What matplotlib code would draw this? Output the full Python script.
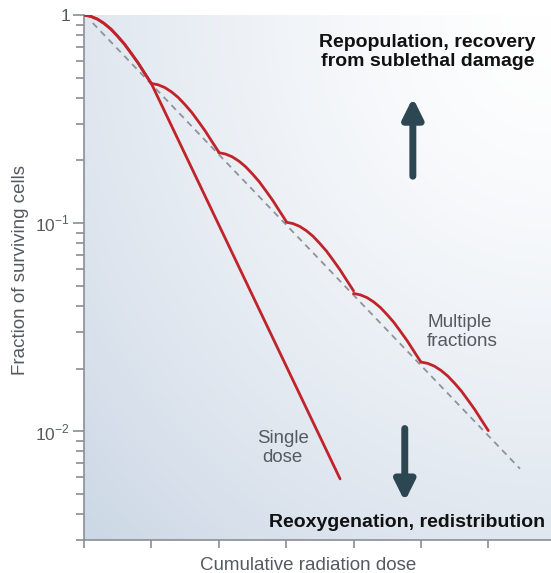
"""
plot.py
cell survival for a single dose vs. multiple fractions
"""

import numpy as np
import matplotlib.pyplot as plt
from matplotlib.ticker import LogLocator, NullFormatter, FixedLocator, NullLocator

plt.rcParams['font.family'] = ['Liberation Sans', 'DejaVu Sans']

# shoulder of one fraction: relative survival vs dose within the fraction
shoulder_dose = [0.0, 0.1, 0.2, 0.3, 0.4, 0.5, 0.6, 0.7, 0.8, 0.9, 1.0]
shoulder_surv = [1.0, 0.985, 0.955, 0.91, 0.855, 0.79, 0.725, 0.655, 0.59, 0.525, 0.468]

# survival at the start of each fraction
fraction_start = [0, 1, 2, 3, 4, 5]
fraction_level = [1.0, 0.469, 0.218, 0.101, 0.0459, 0.0215]

# single dose tail (straight on log scale)
single_tail_dose = [1.0, 3.8]
single_tail_surv = [0.468, 0.0059]

# dashed reference line
ref_dose = [0.13, 6.47]
ref_surv = [0.915, 0.0066]

dose_ticks = [0, 1, 2, 3, 4, 5, 6]

red = '#c1232b'
arrow_col = '#2c4652'
grey_txt = '#555a60'

fig = plt.figure(figsize=(5.51, 5.73), dpi=100)
pos = [84 / 551, 33 / 573, 467 / 551, 525 / 573]

# background shading, light at top right, blue-grey at bottom left
bg = fig.add_axes(pos, zorder=0)
yy, xx = np.mgrid[0:1:200j, 0:1:200j]
d = np.sqrt((1 - xx) ** 2 + yy ** 2) / np.sqrt(2)
d = np.clip(d, 0, 1) ** 1.4
light = np.array([1.0, 1.0, 1.0])
dark = np.array([0.80, 0.845, 0.90])
img = light[None, None, :] * (1 - d[..., None]) + dark[None, None, :] * d[..., None]
bg.imshow(img, extent=[0, 1, 0, 1], aspect='auto', origin='upper')
bg.axis('off')

ax = fig.add_axes(pos, zorder=1)
ax.set_facecolor('none')
ax.set_yscale('log')
ax.set_xlim(0, 6.93)
ax.set_ylim(0.003, 1)

# dashed reference
ax.plot(ref_dose, ref_surv, color='#8c939b', lw=1.3, ls=(0, (3.5, 2.8)), zorder=2)

# multiple fractions
sd = np.array(shoulder_dose)
ss = np.array(shoulder_surv)
for start, level in zip(fraction_start, fraction_level):
    ax.plot(start + sd, level * ss, color=red, lw=2.0, solid_capstyle='round', zorder=3)

# single dose
single_dose = list(shoulder_dose) + single_tail_dose[1:]
single_surv = list(shoulder_surv) + single_tail_surv[1:]
ax.plot(single_dose, single_surv, color=red, lw=2.0, solid_capstyle='round', zorder=3)

# axes styling
for s in ['top', 'right']:
    ax.spines[s].set_visible(False)
for s in ['left', 'bottom']:
    ax.spines[s].set_color('#8a8f96')
    ax.spines[s].set_linewidth(1.2)

ax.xaxis.set_major_locator(FixedLocator(dose_ticks))
ax.xaxis.set_minor_locator(NullLocator())
ax.set_xticklabels([])
ax.tick_params(axis='x', length=6, width=1.2, color='#8a8f96', direction='out')

ax.yaxis.set_minor_locator(LogLocator(base=10, subs=np.arange(2, 10), numticks=10))
ax.yaxis.set_minor_formatter(NullFormatter())
ax.set_yticks([1, 0.1, 0.01])
ax.set_yticklabels(['1', r'10$^{\mathregular{-1}}$', r'10$^{\mathregular{-2}}$'])
ax.tick_params(axis='y', which='major', length=8, width=1.2, color='#8a8f96',
               labelsize=12.5, labelcolor=grey_txt, pad=2)
ax.tick_params(axis='y', which='minor', length=6, width=1.2, color='#8a8f96')

ax.set_xlabel('Cumulative radiation dose', fontsize=13.5, color=grey_txt)
ax.set_ylabel('Fraction of surviving cells', fontsize=13.5, color=grey_txt)
ax.xaxis.set_label_coords(0.48, -0.033, transform=ax.transAxes)
ax.yaxis.set_label_coords(-0.118, 0.515, transform=ax.transAxes)

# curve labels
ax.text(5.09, 0.030, 'Multiple\nfractions', fontsize=13.6, color=grey_txt,
        ha='left', va='center', linespacing=1.2)
ax.text(2.95, 0.0083, 'Single\ndose', fontsize=13.4, color=grey_txt,
        ha='center', va='center', linespacing=1.2)

# mechanism annotations
ax.text(5.1, 0.664, 'Repopulation, recovery\nfrom sublethal damage', fontsize=14,
        fontweight='bold', color='#111111', ha='center', va='center', linespacing=1.2)
ax.text(6.84, 0.00365, 'Reoxygenation, redistribution', fontsize=14,
        fontweight='bold', color='#111111', ha='right', va='center')

ax.annotate('', xy=(4.88, 0.40), xytext=(4.88, 0.168),
            arrowprops=dict(arrowstyle='-|>,head_length=1.2,head_width=0.6',
                            color=arrow_col, lw=5, shrinkA=0, shrinkB=0))
ax.annotate('', xy=(4.76, 0.0046), xytext=(4.76, 0.0103),
            arrowprops=dict(arrowstyle='-|>,head_length=1.2,head_width=0.6',
                            color=arrow_col, lw=5, shrinkA=0, shrinkB=0))

plt.savefig('out.png', dpi=100)
